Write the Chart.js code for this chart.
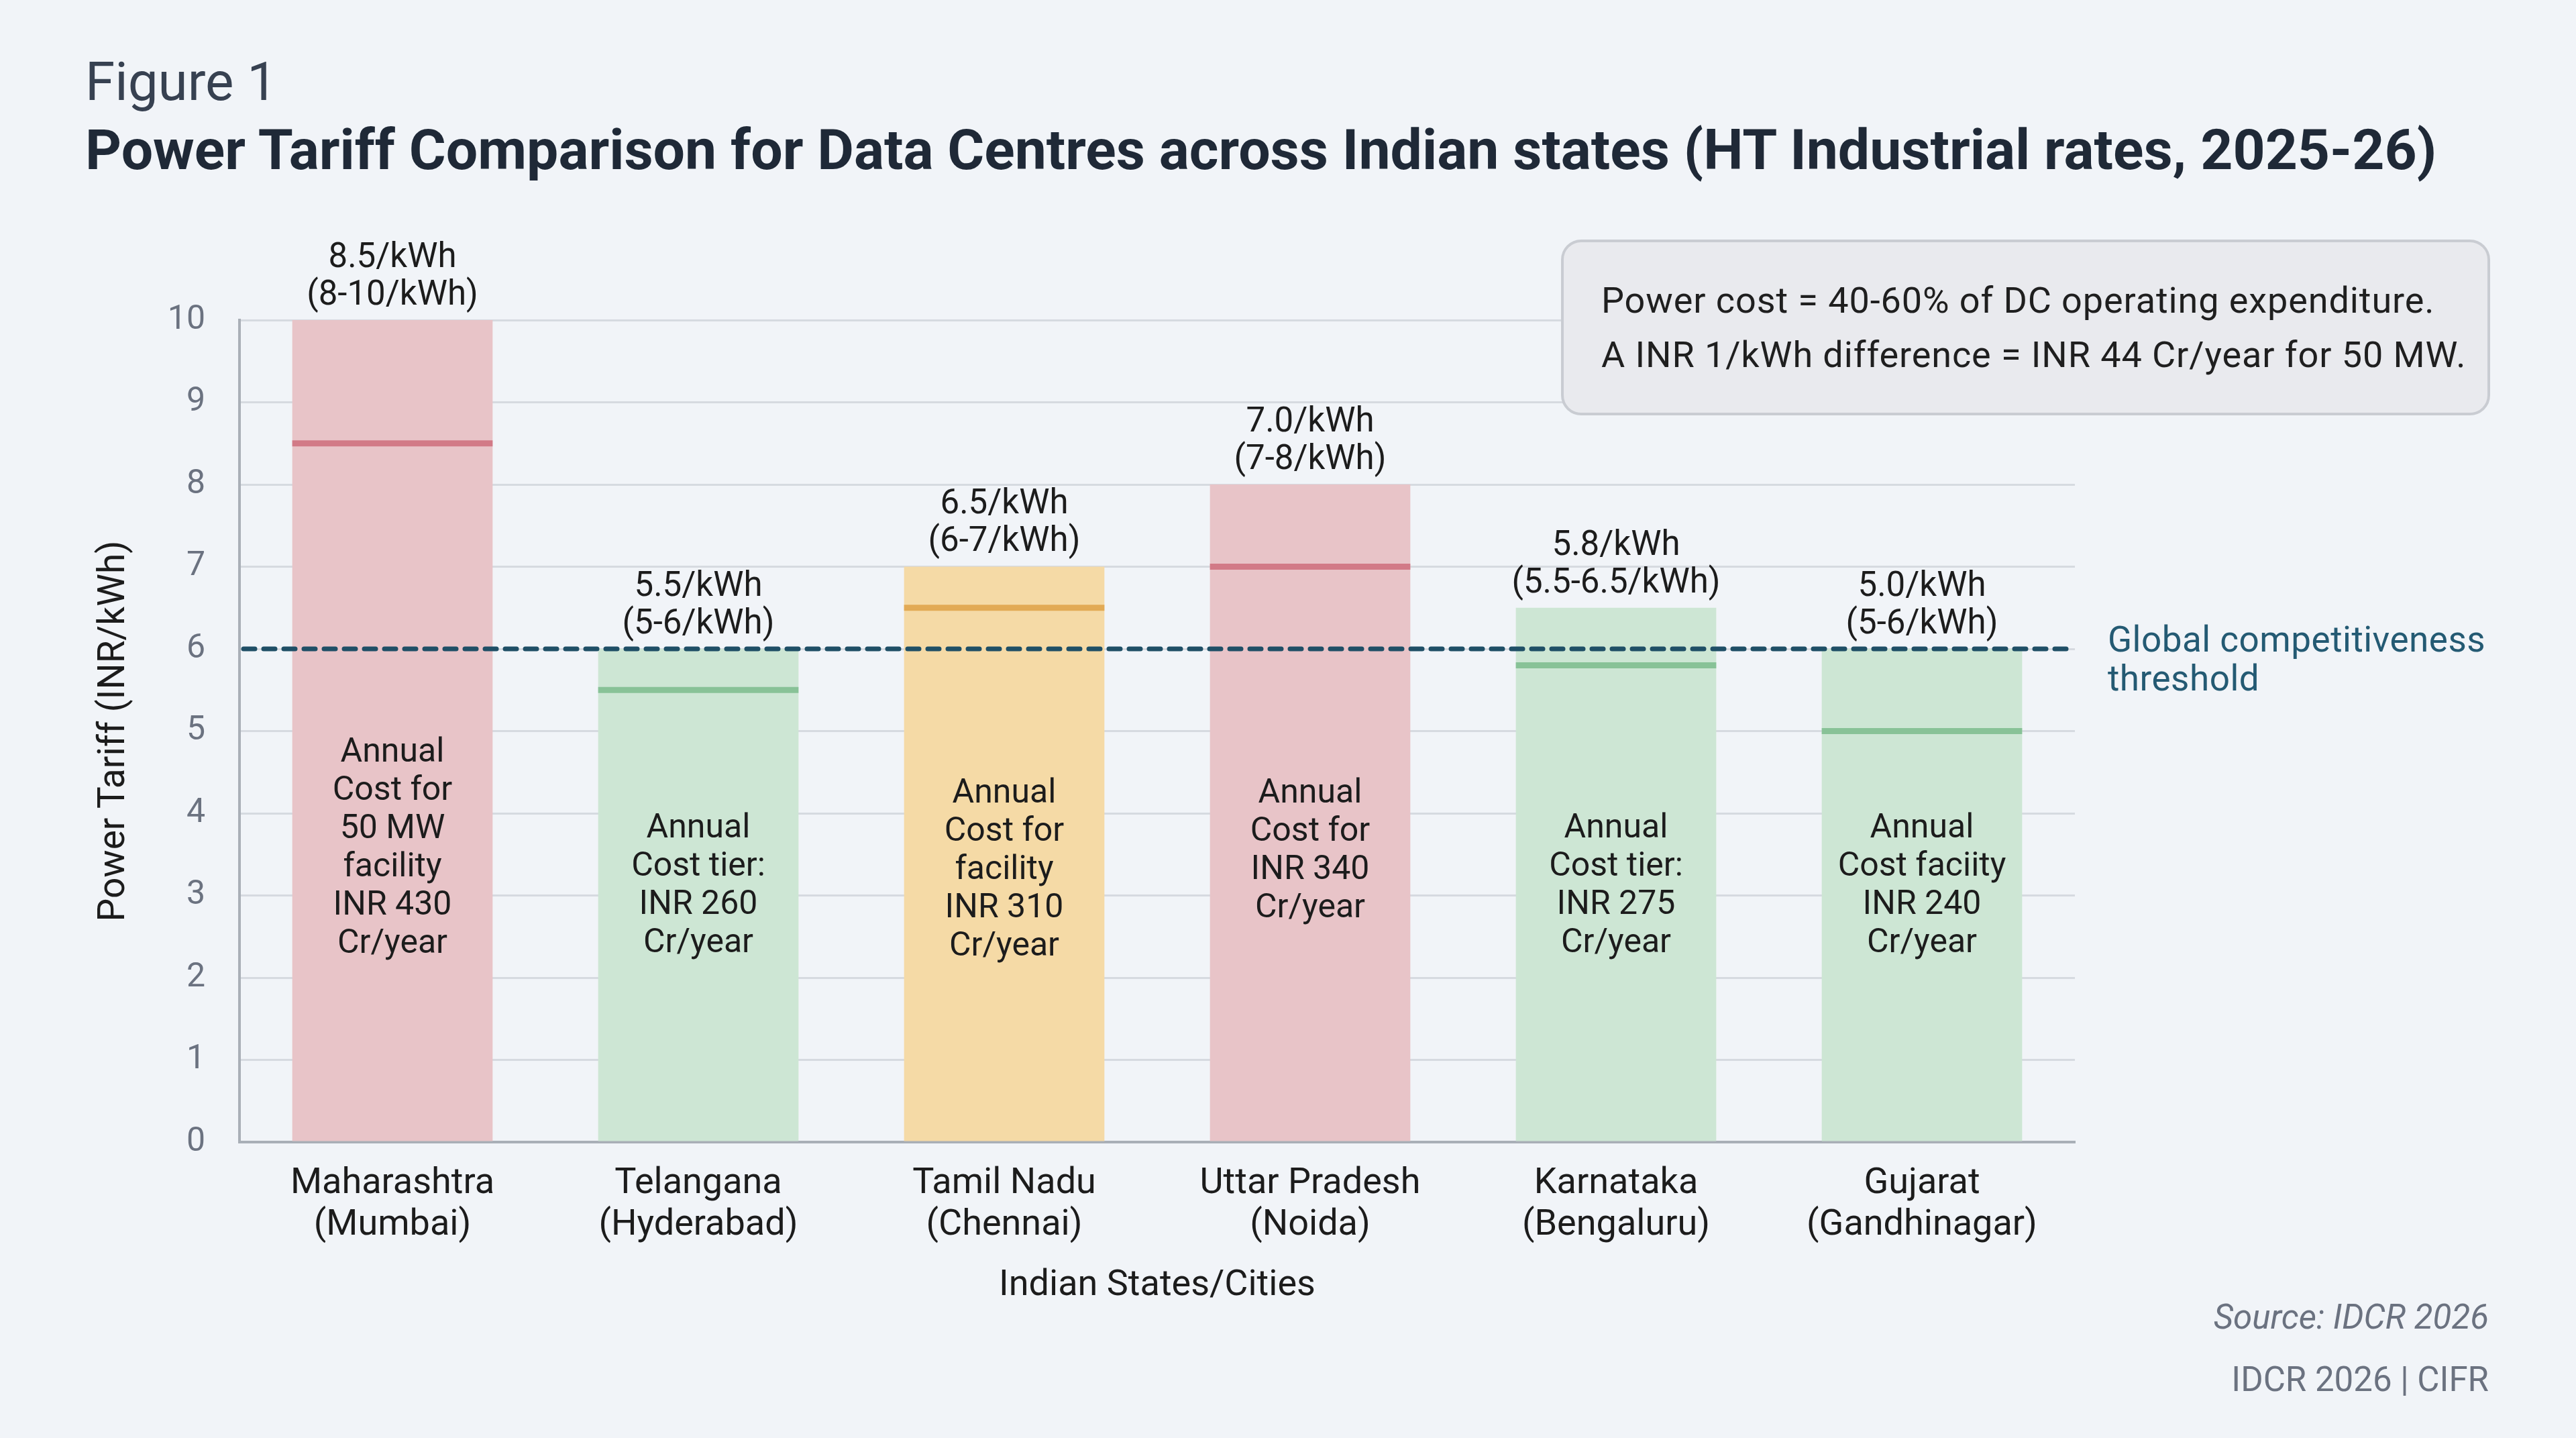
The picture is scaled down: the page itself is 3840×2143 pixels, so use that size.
<!DOCTYPE html>
<html>
<head>
<meta charset="utf-8">
<script src="https://cdn.jsdelivr.net/npm/chart.js@4.4.1/dist/chart.umd.min.js"></script>
<style>
  html, body { margin: 0; padding: 0; background: #f1f4f8; }
  #wrap { position: relative; width: 3840px; height: 2143px; overflow: hidden; font-family: Roboto, "Noto Sans", sans-serif; }
  #myChart { position: absolute; left: 0; top: 0; }
  .txt { position: absolute; white-space: nowrap; line-height: 1; }
  #fig { left: 127px; top: 82px; font-size: 80px; color: #374151; }
  #title { left: 127px; top: 182px; font-size: 76px; font-weight: 700; color: #1f2937; }
  #note { position: absolute; left: 2327px; top: 357px; width: 1385px; height: 262px; box-sizing: border-box;
          background: #e9eaee; border: 4px solid #c9ccd2; border-radius: 30px; }
  .noteLine { left: 56px; font-size: 54px; letter-spacing: 0.9px; color: #1f1f1f; }
  .foot { right: 130px; font-size: 51px; color: #6b7280; }
</style>
</head>
<body>
<div id="wrap">
  <canvas id="myChart" width="3840" height="2143"></canvas>
  <div class="txt" id="fig">Figure 1</div>
  <div class="txt" id="title">Power Tariff Comparison for Data Centres across Indian states (HT Industrial rates, 2025-26)</div>
  <div id="note">
    <div class="txt noteLine" style="top: 60px;">Power cost = 40-60% of DC operating expenditure.</div>
    <div class="txt noteLine" style="top: 141px;">A INR 1/kWh difference = INR 44 Cr/year for 50 MW.</div>
  </div>
  <div class="txt foot" style="top: 1937px; font-style: italic;">Source: IDCR 2026</div>
  <div class="txt foot" style="top: 2030px;">IDCR 2026 | CIFR</div>
</div>
<script>
// data
var states = [
    ['Maharashtra', '(Mumbai)'],
    ['Telangana', '(Hyderabad)'],
    ['Tamil Nadu', '(Chennai)'],
    ['Uttar Pradesh', '(Noida)'],
    ['Karnataka', '(Bengaluru)'],
    ['Gujarat', '(Gandhinagar)']
];
var rangeLow = [8, 5, 6, 7, 5.5, 5];
var rangeHigh = [10, 6, 7, 8, 6.5, 6];
var typicalTariff = [8.5, 5.5, 6.5, 7.0, 5.8, 5.0];
var tier = ['high', 'low', 'mid', 'high', 'low', 'low'];
var annualCost = [
    ['Annual', 'Cost for', '50 MW', 'facility', 'INR 430', 'Cr/year'],
    ['Annual', 'Cost tier:', 'INR 260', 'Cr/year'],
    ['Annual', 'Cost for', 'facility', 'INR 310', 'Cr/year'],
    ['Annual', 'Cost for', 'INR 340', 'Cr/year'],
    ['Annual', 'Cost tier:', 'INR 275', 'Cr/year'],
    ['Annual', 'Cost faciity', 'INR 240', 'Cr/year']
];
var threshold = 6;
var thresholdLabel = ['Global competitiveness', 'threshold'];
var yTicks = [0, 1, 2, 3, 4, 5, 6, 7, 8, 9, 10];

// colours per tier
var fillColor = { high: '#e8c4c8', mid: '#f5daa6', low: '#cde6d4' };
var lineColor = { high: '#d27a87', mid: '#e2aa55', low: '#88c297' };
// where the in-bar text block starts (axis value of first line)
var innerTop = [4.78, 3.86, 4.28, 4.28, 3.86, 3.86];

// fit bold title to the width it has in the figure
var t = document.getElementById('title');
t.style.fontSize = (76 * 3505 / t.offsetWidth) + 'px';

var FONT = 'Roboto';

var labelsPlugin = {
    id: 'labelsPlugin',
    afterDatasetsDraw: function(chart) {
        var ctx = chart.ctx;
        var y = chart.scales.y;
        var area = chart.chartArea;
        var meta = chart.getDatasetMeta(0);
        ctx.save();

        // typical tariff lines
        meta.data.forEach(function(bar, i) {
            var py = y.getPixelForValue(typicalTariff[i]);
            ctx.fillStyle = lineColor[tier[i]];
            ctx.fillRect(bar.x - bar.width / 2, py - 4.5, bar.width, 9);
        });

        // threshold dashed line
        var ty = y.getPixelForValue(threshold);
        ctx.strokeStyle = '#1f4f66';
        ctx.lineWidth = 7;
        ctx.lineCap = 'round';
        ctx.setLineDash([17, 13]);
        ctx.beginPath();
        ctx.moveTo(area.left + 6, ty);
        ctx.lineTo(area.right, ty);
        ctx.stroke();
        ctx.setLineDash([]);

        ctx.textBaseline = 'middle';
        ctx.fillStyle = '#245a73';
        ctx.textAlign = 'left';
        ctx.font = '53px ' + FONT;
        ctx.letterSpacing = '0.5px';
        thresholdLabel.forEach(function(line, k) {
            ctx.fillText(line, area.right + 49, ty - 9 + k * 58);
        });
        ctx.letterSpacing = '0px';

        // labels above bars and inside bars
        ctx.textAlign = 'center';
        ctx.fillStyle = '#1c1c1c';
        meta.data.forEach(function(bar, i) {
            ctx.font = '51px ' + FONT;
            ctx.fillText(typicalTariff[i].toFixed(1) + '/kWh', bar.x, bar.y - 92);
            ctx.fillText('(' + rangeLow[i] + '-' + rangeHigh[i] + '/kWh)', bar.x, bar.y - 36);
            ctx.font = '50px ' + FONT;
            var top = y.getPixelForValue(innerTop[i]) + 6;
            annualCost[i].forEach(function(line, k) {
                ctx.fillText(line, bar.x, top + k * 57);
            });
        });
        ctx.restore();
    }
};

var ctx = document.getElementById('myChart').getContext('2d');
var chart = new Chart(ctx, {
    type: 'bar',
    data: {
        labels: states,
        datasets: [{
            data: rangeHigh,
            backgroundColor: tier.map(function(t) { return fillColor[t]; }),
            borderWidth: 0,
            barPercentage: 0.655,
            categoryPercentage: 1
        }]
    },
    options: {
        responsive: false,
        animation: false,
        devicePixelRatio: 1,
        layout: { padding: { left: 0, top: 477, right: 747, bottom: 0 } },
        plugins: {
            legend: { display: false },
            tooltip: { enabled: false }
        },
        scales: {
            x: {
                afterFit: function(s) { s.height = 441; },
                grid: { display: false },
                border: { display: true, color: '#a9afb7', width: 4 },
                ticks: {
                    color: '#1c1c1c',
                    font: { family: FONT, size: 54, lineHeight: 1.15 },
                    padding: 23,
                    maxRotation: 0,
                    autoSkip: false
                },
                title: {
                    display: true,
                    text: 'Indian States/Cities',
                    color: '#1c1c1c',
                    font: { family: FONT, size: 54 },
                    padding: { top: 0, bottom: 194 }
                }
            },
            y: {
                afterFit: function(s) { s.width = 357; },
                min: 0,
                max: 10,
                afterBuildTicks: function(s) { s.ticks = yTicks.map(function(v) { return { value: v }; }); },
                grid: { color: '#d6dae0', lineWidth: 3, drawTicks: false },
                border: { display: true, color: '#a9afb7', width: 4 },
                ticks: {
                    color: '#6b7280',
                    font: { family: FONT, size: 50 },
                    padding: 51
                },
                title: {
                    display: true,
                    text: 'Power Tariff (INR/kWh)',
                    color: '#1c1c1c',
                    font: { family: FONT, size: 55 },
                    padding: { top: 138, bottom: 0 }
                }
            }
        }
    },
    plugins: [labelsPlugin]
});
</script>
</body>
</html>
